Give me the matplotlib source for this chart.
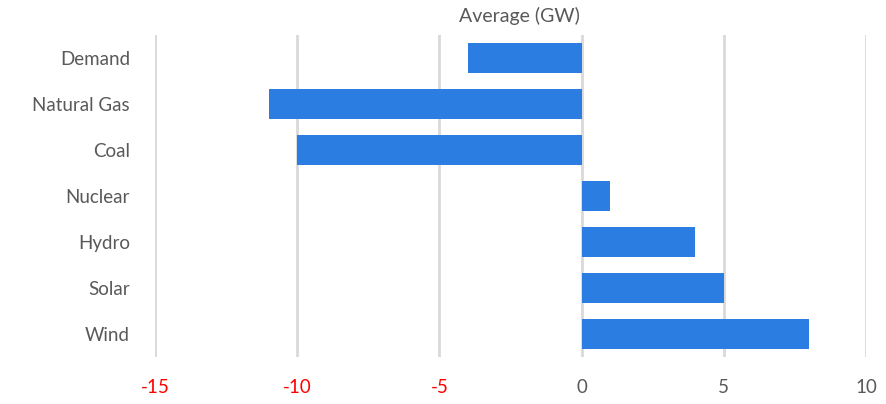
import matplotlib
matplotlib.use("Agg")
import matplotlib.pyplot as plt

plt.rcParams['font.family'] = ['Lato', 'DejaVu Sans']

categories = ['Demand', 'Natural Gas', 'Coal', 'Nuclear', 'Hydro', 'Solar', 'Wind']
values = [-4, -11, -10, 1, 4, 5, 8]
xticks = [-15, -10, -5, 0, 5, 10]

text_grey = '#595959'
bar_blue = '#2b7de1'

fig = plt.figure(figsize=(8.87, 4.04), dpi=100)
ax = fig.add_axes([155 / 887, 1 - 357 / 404, (866 - 155) / 887, (357 - 35) / 404])

ax.barh(range(len(categories)), values, height=0.65, color=bar_blue, zorder=3)

ax.set_xlim(-15, 10)
ax.set_ylim(len(categories) - 0.5, -0.5)
ax.set_xticks(xticks)
ax.set_xticklabels([str(t) for t in xticks])
ax.set_yticks(range(len(categories)))
ax.set_yticklabels(categories)

# negative ticks in red
for lbl, t in zip(ax.get_xticklabels(), xticks):
    lbl.set_color('#ff0000' if t < 0 else text_grey)
for lbl in ax.get_yticklabels():
    lbl.set_color(text_grey)

ax.tick_params(axis='both', length=0, labelsize=13.5)
ax.tick_params(axis='x', pad=16)
ax.tick_params(axis='y', pad=18)

ax.grid(axis='x', color='#d9d9d9', linewidth=2, zorder=0)
for s in ax.spines.values():
    s.set_visible(False)

fig.text(519 / 887, 1 - 16 / 404, 'Average (GW)', ha='center', va='center',
         fontsize=14, color=text_grey)

fig.savefig('out.png', dpi=100, facecolor='white')
